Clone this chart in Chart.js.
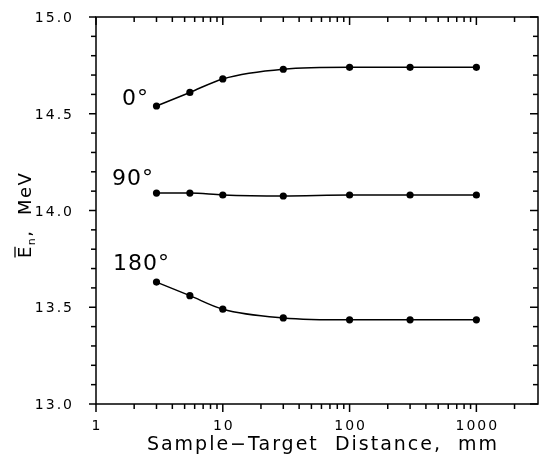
<!DOCTYPE html>
<html>
<head>
<meta charset="utf-8">
<script src="https://cdn.jsdelivr.net/npm/chart.js@4/dist/chart.umd.min.js"></script>
<style>
  html, body { margin: 0; padding: 0; background: #fff; }
  canvas { display: block; }
</style>
</head>
<body>
<canvas id="chart" width="539" height="455"></canvas>
<script>
// Sample-target distance (mm) and mean neutron energy (MeV) at three emission angles
const distances = [3, 5.5, 10, 30, 100, 300, 1000];
const energy0 = [14.54, 14.61, 14.68, 14.73, 14.74, 14.74, 14.74];
const energy90 = [14.09, 14.09, 14.08, 14.075, 14.08, 14.08, 14.08];
const energy180 = [13.63, 13.56, 13.49, 13.445, 13.435, 13.435, 13.435];
const angleLabels = ['0°', '90°', '180°'];

const xTickValues = [1, 10, 100, 1000];
const xTickLabels = ['1', '10', '100', '1000'];
const yTickValues = [13.0, 13.5, 14.0, 14.5, 15.0];
const yTickLabels = ['13.0', '13.5', '14.0', '14.5', '15.0'];

// where each angle label sits, in data units (left edge, baseline)
const angleLabelAnchors = [[1.6, 14.545], [1.335, 14.132], [1.36, 13.693]];

const X_MIN = 1, X_MAX = 2900, Y_MIN = 13, Y_MAX = 15;
const FONT = '"DejaVu Sans", sans-serif';

function series(values) {
  return distances.map((d, i) => ({ x: d, y: values[i] }));
}

function lineDataset(values) {
  return {
    data: series(values),
    borderColor: '#000',
    backgroundColor: '#000',
    borderWidth: 1.5,
    pointRadius: 3.6,
    pointBackgroundColor: '#000',
    pointBorderColor: '#000',
    pointBorderWidth: 0,
    cubicInterpolationMode: 'monotone',
    fill: false
  };
}

// frame, tick marks, tick labels and titles
const framePlugin = {
  id: 'frame',
  afterDatasetsDraw(chart) {
    const ctx = chart.ctx;
    const xs = chart.scales.x, ys = chart.scales.y;
    const L = 96, R = 538, T = 17, B = 404;
    ctx.save();
    ctx.strokeStyle = '#000';
    ctx.fillStyle = '#000';
    ctx.lineWidth = 1.5;
    ctx.lineCap = 'butt';

    // frame
    ctx.beginPath();
    ctx.moveTo(L, T); ctx.lineTo(R, T); ctx.lineTo(R, B); ctx.lineTo(L, B); ctx.closePath();
    ctx.stroke();

    // x ticks: outside on the bottom, inside on the top
    const line = (x1, y1, x2, y2) => { ctx.beginPath(); ctx.moveTo(x1, y1); ctx.lineTo(x2, y2); ctx.stroke(); };
    for (let d = 0; d <= 3; d++) {
      for (let m = 1; m <= 9; m++) {
        const v = m * Math.pow(10, d);
        if (v < X_MIN || v > X_MAX) continue;
        const px = xs.getPixelForValue(v);
        const len = m === 1 ? 8 : 5;
        line(px, B, px, B + len);
        line(px, T, px, T + len);
      }
    }
    // y ticks: outside on the left, inside on the right
    for (let k = 0; k <= 20; k++) {
      const v = Y_MIN + k * 0.1;
      const py = ys.getPixelForValue(v);
      const major = k % 5 === 0;
      line(L - (major ? 7 : 5), py, L, py);
      line(R - (major ? 8 : 5), py, R, py);
    }

    // tick labels
    ctx.font = '14px ' + FONT;
    ctx.letterSpacing = '2px';
    ctx.textBaseline = 'alphabetic';
    ctx.textAlign = 'left';
    xTickValues.forEach((v, i) => {
      const px = xs.getPixelForValue(v);
      const w = ctx.measureText(xTickLabels[i]).width - 2;
      ctx.fillText(xTickLabels[i], px - w / 2, 430);
    });
    yTickValues.forEach((v, i) => {
      const py = ys.getPixelForValue(v);
      const w = ctx.measureText(yTickLabels[i]).width - 2;
      ctx.fillText(yTickLabels[i], 72 - w, py + 5);
    });

    // x axis title
    ctx.font = '19px ' + FONT;
    ctx.letterSpacing = '2px';
    const xt = 'Sample\u2212Target  Distance,  mm';
    const xw = ctx.measureText(xt).width - 2;
    ctx.fillText(xt, 322 - xw / 2, 450);

    // y axis title: mean energy E-bar with subscript n
    ctx.save();
    ctx.translate(31, 258);
    ctx.rotate(-Math.PI / 2);
    ctx.font = '18px ' + FONT;
    ctx.letterSpacing = '1.5px';
    ctx.fillText('E', 0, 0);
    const wE = ctx.measureText('E').width - 1.5;
    ctx.lineWidth = 1.3;
    line(0.5, -16, wE, -16);
    ctx.font = '11px ' + FONT;
    ctx.fillText('n', wE + 1.5, 4);
    const wn = ctx.measureText('n').width;
    ctx.font = '18px ' + FONT;
    ctx.fillText(',  MeV', wE + 1.5 + wn, 0);
    ctx.restore();

    // angle labels
    ctx.font = '22px ' + FONT;
    ctx.letterSpacing = '1px';
    angleLabels.forEach((t, i) => {
      const [ax, ay] = angleLabelAnchors[i];
      ctx.fillText(t, xs.getPixelForValue(ax), ys.getPixelForValue(ay));
    });

    ctx.restore();
  }
};

new Chart(document.getElementById('chart'), {
  type: 'line',
  data: {
    datasets: [lineDataset(energy0), lineDataset(energy90), lineDataset(energy180)]
  },
  options: {
    responsive: false,
    devicePixelRatio: 1,
    animation: false,
    events: [],
    layout: { padding: { top: 17, right: 1, left: 0, bottom: 0 } },
    plugins: { legend: { display: false }, tooltip: { enabled: false } },
    scales: {
      x: {
        type: 'logarithmic',
        min: X_MIN,
        max: X_MAX,
        ticks: { display: false },
        grid: { display: false },
        border: { display: false },
        afterFit: s => { s.height = 51; }
      },
      y: {
        type: 'linear',
        min: Y_MIN,
        max: Y_MAX,
        ticks: { display: false },
        grid: { display: false },
        border: { display: false },
        afterFit: s => { s.width = 96; }
      }
    }
  },
  plugins: [framePlugin]
});
</script>
</body>
</html>
